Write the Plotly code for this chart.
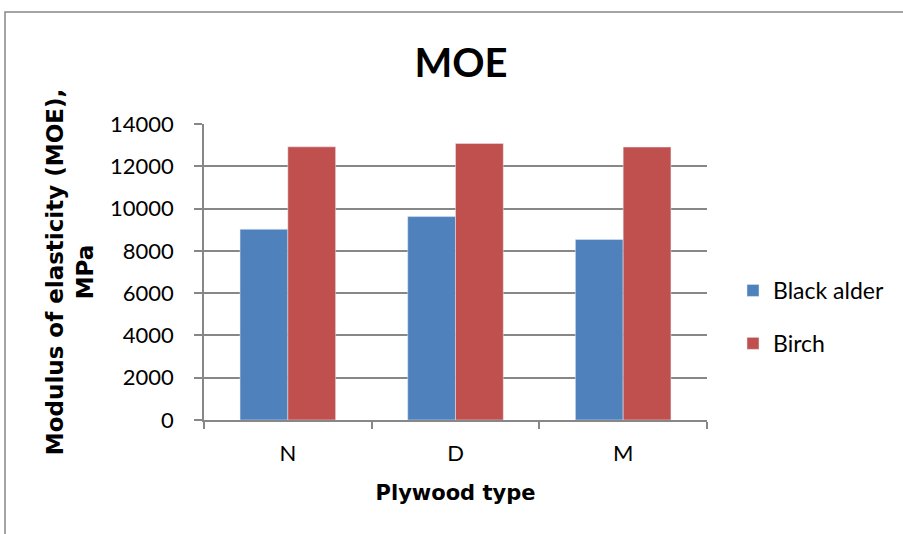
import plotly.graph_objects as go

# Plywood types and mean modulus of elasticity (MPa) per veneer species
plywood_types = ["N", "D", "M"]
black_alder = [9020, 9620, 8540]
birch = [12920, 13080, 12910]
y_ticks = [0, 2000, 4000, 6000, 8000, 10000, 12000, 14000]

W, H = 903, 534
L, R, T, B = 204, 196, 124, 114
plot_w = W - L - R
plot_h = H - T - B

def px_x(x):
    return (x - L) / plot_w

def px_y(y):
    return (H - B - y) / plot_h

grid = "#878787"
label_font = "Lato, Carlito, Calibri, sans-serif"
title_font = "DejaVu Sans, Arial, sans-serif"

fig = go.Figure()
fig.add_trace(go.Bar(x=plywood_types, y=black_alder, name="Black alder",
                     marker_color="#4F81BD", legendgroup="a"))
fig.add_trace(go.Bar(x=plywood_types, y=birch, name="Birch",
                     marker_color="#C0504D", legendgroup="b"))

fig.update_layout(
    width=W, height=H,
    margin=dict(l=L, r=R, t=T, b=B, autoexpand=False),
    paper_bgcolor="white", plot_bgcolor="white",
    barmode="group", bargap=0.43, bargroupgap=0,
    title=dict(text="<b>MOE</b>", x=px_x(461), xref="paper", xanchor="center",
               y=1 - 63 / H, yref="container", yanchor="middle",
               font=dict(family=label_font, size=40, color="black")),
    legend=dict(x=px_x(733), xanchor="left", y=px_y(317), yanchor="middle",
                font=dict(family=label_font, size=23, color="black"),
                tracegroupgap=20, bgcolor="rgba(0,0,0,0)"),
    showlegend=True,
)

fig.update_xaxes(
    showgrid=False, showline=True, linecolor=grid, linewidth=1.5,
    ticks="outside", tickson="boundaries", ticklen=7, tickwidth=1.5, tickcolor=grid,
    tickfont=dict(family=label_font, size=22, color="black"),
    ticklabelstandoff=13,
    title=dict(text="<b>Plywood type</b>", standoff=20,
               font=dict(family=title_font, size=21, color="black")),
)

fig.update_yaxes(
    range=[0, 14000], tickvals=y_ticks, tickformat="d",
    showgrid=True, gridcolor=grid, gridwidth=1.5,
    showline=True, linecolor=grid, linewidth=1.5,
    ticks="outside", ticklen=8, tickwidth=1.5, tickcolor=grid,
    tickfont=dict(family=label_font, size=22, color="black"),
    ticklabelstandoff=16,
    zeroline=False,
    title=dict(text="<b>Modulus of elasticity (MOE),<br>MPa</b>", standoff=10,
               font=dict(family=title_font, size=23, color="black")),
)

# outer chart-area frame, running off the right and bottom edges
fig.add_shape(type="rect", xref="paper", yref="paper",
              x0=px_x(5), x1=px_x(W + 20), y0=px_y(H + 20), y1=px_y(12),
              line=dict(color=grid, width=1.5), fillcolor="rgba(0,0,0,0)", layer="below")

fig.write_html("out.html")
